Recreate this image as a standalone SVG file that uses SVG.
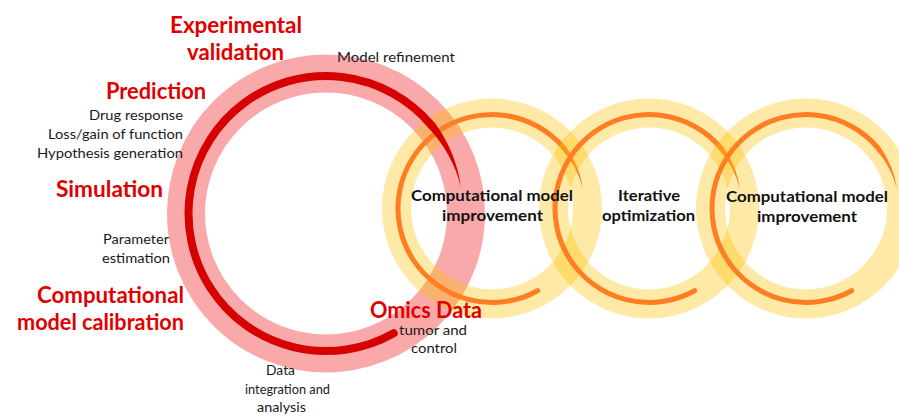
<svg xmlns="http://www.w3.org/2000/svg" xmlns:xlink="http://www.w3.org/1999/xlink" width="899" height="416" viewBox="0 0 899 416">
  <style>
    text { font-family: Lato, "Open Sans", "Liberation Sans", sans-serif; }
    .stage { font-size: 22px; font-weight: 700; fill: #E00000; }
    .note { font-size: 13.5px; fill: #1a1a1a; }
    .loop-label { font-size: 15px; font-weight: 700; fill: #111111; }
    .band { fill: none; stroke: #FFC000; stroke-opacity: 0.35; stroke-width: 29; }
    .spin { fill: none; stroke: #FF7D23; stroke-width: 5; stroke-linecap: round; }
    .spin-tip { fill: #FF7D23; }
  </style>
  <defs>
    <!-- one improvement loop, drawn around its own centre -->
    <g id="loop">
      <circle class="band" cx="0" cy="0" r="95.5"/>
      <path class="spin" d="M 45.6 82.2 A 94 94 0 1 1 72.0 -60.4"/>
      <path class="spin-tip" d="M 73.9 -62.0 A 96.5 96.5 0 0 1 91.0 -19.3 A 91.5 91.5 0 0 0 70.1 -58.8 Z"/>
    </g>
  </defs>

  <!-- main calibration cycle -->
  <g id="cycle">
    <circle cx="326" cy="213.5" r="140" fill="none" stroke="#F9A9A9" stroke-width="38"/>
  </g>

  <!-- improvement loops -->
  <g id="connectors">
    <use id="loop-1" xlink:href="#loop" href="#loop" x="492" y="208.5"/>
    <use id="loop-2" xlink:href="#loop" href="#loop" x="649" y="208.5"/>
    <use id="loop-3" xlink:href="#loop" href="#loop" x="806" y="208.5"/>
    <!-- cycle direction arc -->
    <path d="M 393.7 333.2 A 137.5 137.5 0 1 1 431.3 125.1" fill="none" stroke="#D60000" stroke-width="8" stroke-linecap="round"/>
    <path d="M 434.4 122.5 A 141.5 141.5 0 0 1 461 187.3 A 133.5 133.5 0 0 0 428.3 127.7 Z" fill="#D60000"/>
  </g>

  <g id="experimental-validation">
    <text class="stage" x="170" y="33" textLength="132" lengthAdjust="spacingAndGlyphs">Experimental</text>
    <text class="stage" x="187" y="60" textLength="97" lengthAdjust="spacingAndGlyphs">validation</text>
    <text class="note" x="337" y="62" textLength="118" lengthAdjust="spacingAndGlyphs">Model refinement</text>
  </g>

  <g id="prediction">
    <text class="stage" x="106" y="99" textLength="100" lengthAdjust="spacingAndGlyphs">Prediction</text>
    <text class="note" x="89" y="120" textLength="94" lengthAdjust="spacingAndGlyphs">Drug response</text>
    <text class="note" x="48" y="139" textLength="135" lengthAdjust="spacingAndGlyphs">Loss/gain of function</text>
    <text class="note" x="37" y="158" textLength="146" lengthAdjust="spacingAndGlyphs">Hypothesis generation</text>
  </g>

  <g id="simulation">
    <text class="stage" x="56" y="197" textLength="107" lengthAdjust="spacingAndGlyphs">Simulation</text>
    <text class="note" x="103" y="244" textLength="66" lengthAdjust="spacingAndGlyphs">Parameter</text>
    <text class="note" x="102" y="263" textLength="68" lengthAdjust="spacingAndGlyphs">estimation</text>
  </g>

  <g id="calibration">
    <text class="stage" x="37" y="303" textLength="147" lengthAdjust="spacingAndGlyphs">Computational</text>
    <text class="stage" x="17" y="330" textLength="167" lengthAdjust="spacingAndGlyphs">model calibration</text>
  </g>

  <g id="data-integration">
    <text class="note" x="266" y="375" textLength="29" lengthAdjust="spacingAndGlyphs">Data</text>
    <text class="note" x="245" y="394" textLength="85" lengthAdjust="spacingAndGlyphs">integration and</text>
    <text class="note" x="257" y="412" textLength="49" lengthAdjust="spacingAndGlyphs">analysis</text>
  </g>

  <g id="omics-data">
    <text class="stage" x="370" y="318" textLength="112" lengthAdjust="spacingAndGlyphs">Omics Data</text>
    <text class="note" x="399" y="335" textLength="68" lengthAdjust="spacingAndGlyphs">tumor and</text>
    <text class="note" x="411" y="353" textLength="46" lengthAdjust="spacingAndGlyphs">control</text>
  </g>

  <g id="improvement-1">
    <text class="loop-label" x="411" y="201" textLength="162" lengthAdjust="spacingAndGlyphs">Computational model</text>
    <text class="loop-label" x="442" y="221" textLength="101" lengthAdjust="spacingAndGlyphs">improvement</text>
  </g>

  <g id="iterative-optimization">
    <text class="loop-label" x="618" y="201" textLength="62" lengthAdjust="spacingAndGlyphs">Iterative</text>
    <text class="loop-label" x="602" y="221" textLength="93" lengthAdjust="spacingAndGlyphs">optimization</text>
  </g>

  <g id="improvement-2">
    <text class="loop-label" x="726" y="202" textLength="162" lengthAdjust="spacingAndGlyphs">Computational model</text>
    <text class="loop-label" x="757" y="222" textLength="100" lengthAdjust="spacingAndGlyphs">improvement</text>
  </g>
</svg>
